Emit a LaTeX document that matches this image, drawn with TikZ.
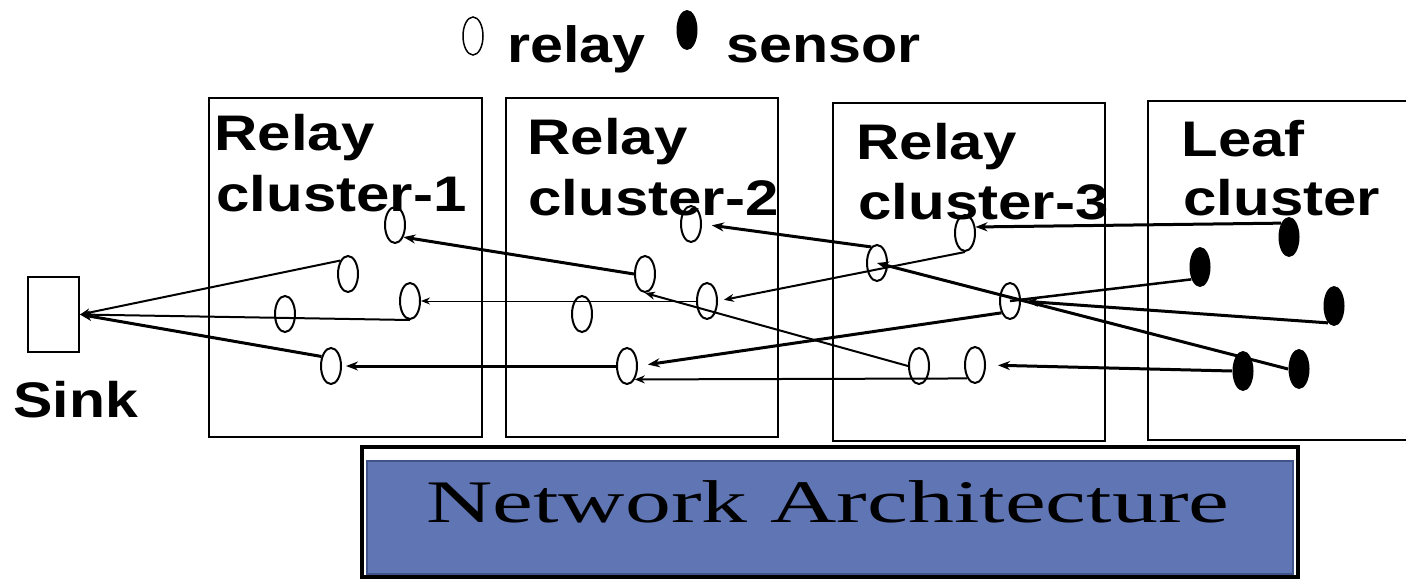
\documentclass[tikz,border=0pt]{standalone}
\usepackage{fontspec}
\setmainfont{Liberation Sans}
\newfontfamily\serifA{Liberation Serif}
\usetikzlibrary{shapes.geometric,arrows.meta}
\definecolor{nablue}{RGB}{96,117,180}
\definecolor{nabord}{RGB}{62,84,138}
\begin{document}
\begin{tikzpicture}[x=0.5pt,y=-0.5pt,
  relay/.style={ellipse,draw,line width=1pt,minimum width=10pt,minimum height=18pt,inner sep=0pt},
  sensor/.style={ellipse,fill=black,minimum width=10.5pt,minimum height=20pt,inner sep=0pt},
  cbox/.style={draw,line width=1pt},
  lbl/.style={anchor=base west,inner sep=0pt,font=\fontsize{25}{25}\selectfont\bfseries},
  lthin/.style={line width=0.5pt,-{Stealth[length=4.5pt,width=3.5pt]}},
  lmid/.style={line width=1pt,-{Stealth[length=5pt,width=4pt]}},
  lthick/.style={line width=1.5pt,-{Stealth[length=6pt,width=4.5pt]}},
]
\useasboundingbox (0,0) rectangle (1406,578);

% legend
\node[ellipse,draw,line width=0.75pt,minimum width=10pt,minimum height=19pt,inner sep=0pt] (legr) at (473,36) {};
\node[anchor=base west,inner sep=0pt,font=\fontsize{25.5}{25.5}\selectfont\bfseries] (legrt) at (507,62) {\scalebox{1.16}[1]{relay}};
\node[sensor,minimum height=20pt] (legs) at (687,30) {};
\node[anchor=base west,inner sep=0pt,font=\fontsize{25.5}{25.5}\selectfont\bfseries] (legst) at (726,62) {\scalebox{1.16}[1]{sensor}};

% cluster boxes
\draw[cbox] (209,98) rectangle (482,437);
\draw[cbox] (506,98) rectangle (778,437);
\draw[cbox] (833,103) rectangle (1105,441);
\draw[cbox] (1148,101) rectangle (1430,440);

% labels
\node[lbl] (t1a) at (214,150) {\scalebox{1.2}[1]{Relay}};
\node[lbl] (t1b) at (216,211) {\scalebox{1.2}[1]{cluster-1}};
\node[lbl] (t2a) at (527,154) {\scalebox{1.2}[1]{Relay}};
\node[lbl] (t2b) at (528,215) {\scalebox{1.2}[1]{cluster-2}};
\node[lbl] (t3a) at (856,159) {\scalebox{1.2}[1]{Relay}};
\node[lbl] (t3b) at (858,219) {\scalebox{1.2}[1]{cluster-3}};
\node[lbl] (t4a) at (1181,156) {\scalebox{1.2}[1]{Leaf}};
\node[lbl] (t4b) at (1183,215) {\scalebox{1.2}[1]{cluster}};

% sink
\node[draw,line width=1pt,minimum width=25.5pt,minimum height=37.5pt,inner sep=0pt] (sink) at (53.5,314.5) {};
\node[anchor=base west,inner sep=0pt,font=\fontsize{25}{25}\selectfont\bfseries] (sinkt) at (13,417) {\scalebox{1.18}[1]{Sink}};

% relays cluster 1
\node[relay] (r1a) at (395,225) {};
\node[relay] (r1b) at (348,274) {};
\node[relay] (r1c) at (410,301) {};
\node[relay] (r1d) at (285,314) {};
\node[relay] (r1e) at (331,366) {};
% relays cluster 2
\node[relay] (r2a) at (691,224) {};
\node[relay] (r2b) at (645,274) {};
\node[relay] (r2c) at (707,301) {};
\node[relay] (r2d) at (582,314) {};
\node[relay] (r2e) at (627,366) {};
% relays cluster 3
\node[relay] (r3a) at (965,233) {};
\node[relay] (r3b) at (877,263) {};
\node[relay] (r3c) at (1010,301) {};
\node[relay] (r3d) at (919,366) {};
\node[relay] (r3e) at (975,365) {};
% sensors
\node[sensor] (s1) at (1289,237) {};
\node[sensor] (s2) at (1200,267) {};
\node[sensor] (s3) at (1334,306) {};
\node[sensor] (s4) at (1243,371) {};
\node[sensor] (s5) at (1299,369) {};

% connectors
\draw[lmid] (r1b.120) -- (sink.east);
\draw[lmid] (r1c.south) -- (sink.east);
\draw[lthick] (r1e.135) -- (sink.east);
\draw[lthick] (r2b.west) -- (r1a.-55);
\draw[lthin] (r2c.west) -- (r1c.east);
\draw[lthick,shorten >=2pt] (r2e.west) -- (r1e.east);
\draw[lthick,shorten >=5pt] (r3b.110) -- (r2a.east);
\draw[lmid,shorten >=3pt] (r3a.south) -- (r2c.east);
\draw[lthick,shorten >=5pt] (r3c.234) -- (r2e.east);
\draw[lmid] (r3e.south west) -- (r2e.south east);
\draw[lmid] (r3d.west) -- (r2b.south);
\draw[lthick] (s1.120) -- (r3a.30);
\draw[lthick] (s5.west) -- (r3b.center);
\draw[line width=1.25pt] (s2.235) -- (r3c.center);
\draw[lthick,shorten >=2.5pt] (s3.250) -- (r3c.east);
\draw[lthick,shorten >=6pt] (s4.west) -- (r3e.east);

% network architecture banner
\draw[line width=2pt] (362,447) rectangle (1298,577);
\node[draw=nabord,fill=nablue,line width=1pt,minimum width=463pt,minimum height=56.5pt,inner sep=0pt] (banner) at (830,517.5) {};
\node[anchor=base west,inner sep=0pt,font=\serifA\fontsize{30.2}{30.2}\selectfont] (bannert) at (426,522) {\scalebox{1.52}[1]{Network Architecture}};
\end{tikzpicture}
\end{document}
